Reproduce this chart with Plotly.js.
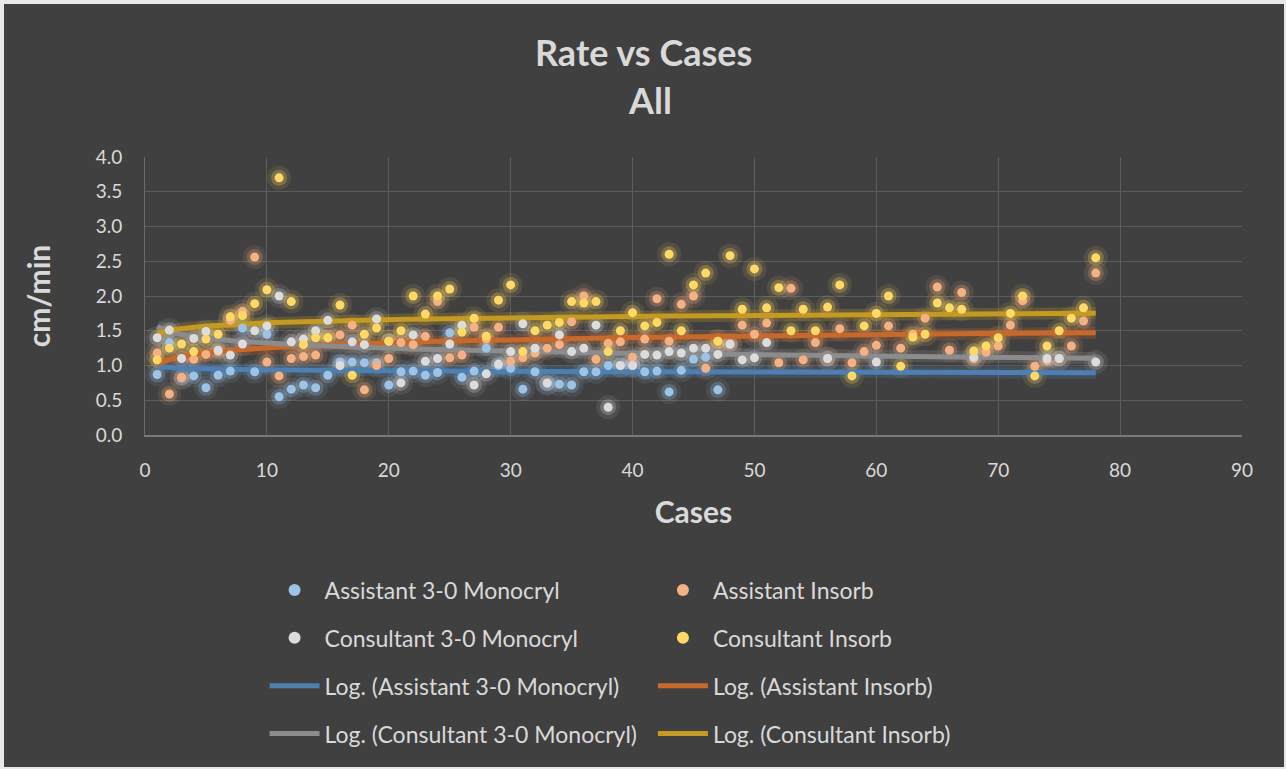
<!DOCTYPE html>
<html>
<head>
<meta charset="utf-8">
<script src="https://cdn.plot.ly/plotly-3.0.1.min.js"></script>
<style>
html,body{margin:0;padding:0;background:#e8e8e8;}
#chart{position:absolute;left:4px;top:4px;width:1280px;height:763px;}
</style>
</head>
<body>
<div id="chart"></div>
<script>
// ---- data (cases vs rate, cm/min) ----
const asstMonoX = [1,2,3,4,5,6,7,8,9,10,11,12,13,14,15,16,17,18,19,20,21,22,23,24,25,26,27,28,29,30,31,32,33,34,35,36,37,38,39,40,41,42,43,44,45,46,47];
const asstMonoY = [0.87,1.33,0.82,0.85,0.68,0.86,0.92,1.54,0.91,1.45,0.55,0.66,0.72,0.68,0.86,1.05,1.05,1.04,1.04,0.72,0.91,0.92,0.86,0.90,1.47,0.83,0.92,1.25,1.00,0.96,0.66,0.91,0.74,0.73,0.72,0.91,0.91,1.00,1.00,1.00,0.91,0.92,0.62,0.93,1.09,1.12,0.65];

const asstInsX = [1,2,3,4,5,6,7,8,9,10,11,12,13,14,15,16,17,18,19,20,21,22,23,24,25,26,27,28,29,30,31,32,33,34,35,36,37,38,39,40,41,42,43,44,45,46,47,48,49,50,51,52,53,54,55,56,57,58,59,60,61,62,63,64,65,66,67,68,69,70,71,72,73,74,75,76,77,78];
const asstInsY = [1.18,0.59,0.83,1.09,1.16,1.20,1.65,1.78,2.56,1.05,0.85,1.10,1.13,1.15,1.40,1.44,1.58,0.65,1.00,1.10,1.33,1.30,1.42,1.92,1.11,1.15,1.55,1.38,1.55,1.06,1.11,1.18,1.25,1.30,1.63,2.00,1.09,1.32,1.34,1.12,1.38,1.96,1.35,1.88,2.00,0.96,1.35,1.30,1.58,1.45,1.61,1.04,2.11,1.08,1.33,1.10,1.53,1.04,1.20,1.29,1.57,1.25,1.45,1.68,2.13,1.22,2.05,1.10,1.19,1.28,1.58,1.93,0.99,1.07,1.10,1.28,1.64,2.33];

const consMonoX = [1,2,3,4,5,6,7,8,9,10,11,12,13,14,15,16,17,18,19,20,21,22,23,24,25,26,27,28,29,30,31,32,33,34,35,36,37,38,39,40,41,42,43,44,45,46,47,48,49,50,51,56,60,68,74,75,78];
const consMonoY = [1.40,1.51,1.10,1.39,1.49,1.22,1.15,1.31,1.50,1.57,2.00,1.34,1.38,1.50,1.65,1.00,1.34,1.30,1.67,1.35,0.75,1.44,1.06,1.10,1.31,1.58,0.72,0.88,1.02,1.20,1.60,1.25,0.75,1.44,1.20,1.25,1.58,0.40,1.00,1.00,1.16,1.15,1.20,1.18,1.25,1.25,1.16,1.31,1.08,1.11,1.33,1.10,1.05,1.12,1.10,1.10,1.05];

const consInsX = asstInsX;
const consInsY = [1.08,1.25,1.31,1.20,1.38,1.45,1.70,1.72,1.89,2.09,3.70,1.92,1.30,1.40,1.40,1.87,0.86,1.45,1.54,1.35,1.50,2.00,1.74,2.00,2.10,1.48,1.68,1.42,1.94,2.16,1.20,1.50,1.58,1.62,1.92,1.90,1.92,1.20,1.50,1.76,1.57,1.62,2.60,1.50,2.16,2.33,1.35,2.58,1.81,2.39,1.83,2.12,1.50,1.81,1.50,1.84,2.16,0.85,1.57,1.75,2.00,0.99,1.41,1.45,1.90,1.83,1.81,1.21,1.28,1.40,1.75,2.00,0.85,1.28,1.50,1.68,1.83,2.55];

const seriesNames = ["Assistant 3-0 Monocryl","Assistant Insorb","Consultant 3-0 Monocryl","Consultant Insorb"];
const titleLines = ["Rate vs Cases","All"];
const xTickVals = [0,10,20,30,40,50,60,70,80,90];
const yTickVals = [0,0.5,1,1.5,2,2.5,3,3.5,4];

// ---- styling ----
const markerColors = ["#9dc3e6","#f4b183","#dcdcdc","#ffd966"];
const lineColors = ["#4d7fb0","#c8692c","#8c8c8c","#c49a22"];
const FONT = "Lato, 'Open Sans', sans-serif";
const TXT = "#d9d9d9";

const sets = [[asstMonoX,asstMonoY],[asstInsX,asstInsY],[consMonoX,consMonoY],[consInsX,consInsY]];

function logFit(xs, ys){
  const n = xs.length; let sl=0, sy=0, sll=0, sly=0;
  for(let i=0;i<n;i++){const l=Math.log(xs[i]); sl+=l; sy+=ys[i]; sll+=l*l; sly+=l*ys[i];}
  const b=(n*sly-sl*sy)/(n*sll-sl*sl); const a=(sy-b*sl)/n; return [a,b];
}
const trendX = [];
for(let i=0;i<=200;i++){ trendX.push(1+77*i/200); }

const traces = [];
const legendOf = ["legend","legend2","legend","legend2"];
// glow layers
sets.forEach((s,k)=>{
  traces.push({type:"scatter",mode:"markers",x:s[0],y:s[1],showlegend:false,hoverinfo:"skip",
    marker:{size:24,color:markerColors[k],opacity:0.10,line:{width:0}}});
  traces.push({type:"scatter",mode:"markers",x:s[0],y:s[1],showlegend:false,hoverinfo:"skip",
    marker:{size:16,color:markerColors[k],opacity:0.25,line:{width:0}}});
});
// trend lines
const trendTraces = [];
sets.forEach((s,k)=>{
  const [a,b] = logFit(s[0],s[1]);
  const ty = trendX.map(x=>a+b*Math.log(x));
  traces.push({type:"scatter",mode:"lines",x:trendX,y:ty,showlegend:false,hoverinfo:"skip",
    line:{color:lineColors[k],width:12},opacity:0.25});
  trendTraces.push({type:"scatter",mode:"lines",x:trendX,y:ty,name:"Log. ("+seriesNames[k]+")",
    legend:legendOf[k],legendgroup:"t"+k,legendrank:3+(k>>1),
    line:{color:lineColors[k],width:5}});
});
// markers
const markerTraces = [];
sets.forEach((s,k)=>{
  markerTraces.push({type:"scatter",mode:"markers",x:s[0],y:s[1],name:seriesNames[k],
    legend:legendOf[k],legendgroup:"m"+k,legendrank:1+(k>>1),
    marker:{size:9,color:markerColors[k],line:{width:0}}});
});
trendTraces.forEach(t=>traces.push(t));
markerTraces.forEach(t=>traces.push(t));

const legendCommon = {orientation:"v",bgcolor:"rgba(0,0,0,0)",font:{family:FONT,size:23,color:TXT},
  tracegroupgap:15,yanchor:"top",xanchor:"left",itemsizing:"constant",traceorder:"grouped",itemwidth:50};

const titleX = (639-141)/1097;
const layout = {
  width:1280,height:763,
  paper_bgcolor:"#404040",plot_bgcolor:"#404040",
  margin:{l:141,r:42,t:153,b:332,autoexpand:false},
  annotations:[
    {text:"<b>"+titleLines[0]+"</b>",xref:"paper",yref:"paper",x:titleX,y:1+(153-48)/278,showarrow:false,
      font:{family:FONT,size:36,color:TXT},yanchor:"middle",xanchor:"center"},
    {text:"<b>"+titleLines[1]+"</b>",xref:"paper",yref:"paper",x:titleX+0.006,y:1+(153-96)/278,showarrow:false,
      font:{family:FONT,size:36,color:TXT},yanchor:"middle",xanchor:"center"}
  ],
  xaxis:{range:[0,90],tickvals:xTickVals,ticktext:xTickVals.map(String),showgrid:true,gridcolor:"#5c5c5c",gridwidth:1,
    zeroline:false,showline:true,linecolor:"#7a7a7a",linewidth:1.5,ticks:"",ticklabelstandoff:18,automargin:false,
    tickfont:{family:FONT,size:19,color:TXT},
    title:{text:"<b>Cases</b>",font:{family:FONT,size:30,color:TXT},standoff:21}},
  yaxis:{range:[0,4],tickvals:yTickVals,ticktext:yTickVals.map(v=>v.toFixed(1)),showgrid:true,gridcolor:"#5c5c5c",gridwidth:1,
    zeroline:false,showline:true,linecolor:"#6a6a6a",linewidth:1,ticks:"",ticklabelstandoff:18,automargin:false,
    tickfont:{family:FONT,size:19,color:TXT},
    title:{text:"<b>cm/min</b>",font:{family:FONT,size:30,color:TXT},standoff:36}},
  legend:Object.assign({},legendCommon,{x:0.109,y:-0.48}),
  legend2:Object.assign({},legendCommon,{x:0.463,y:-0.48}),
  showlegend:true
};
Plotly.newPlot("chart",traces,layout,{displayModeBar:false,staticPlot:true});
</script>
</body>
</html>
